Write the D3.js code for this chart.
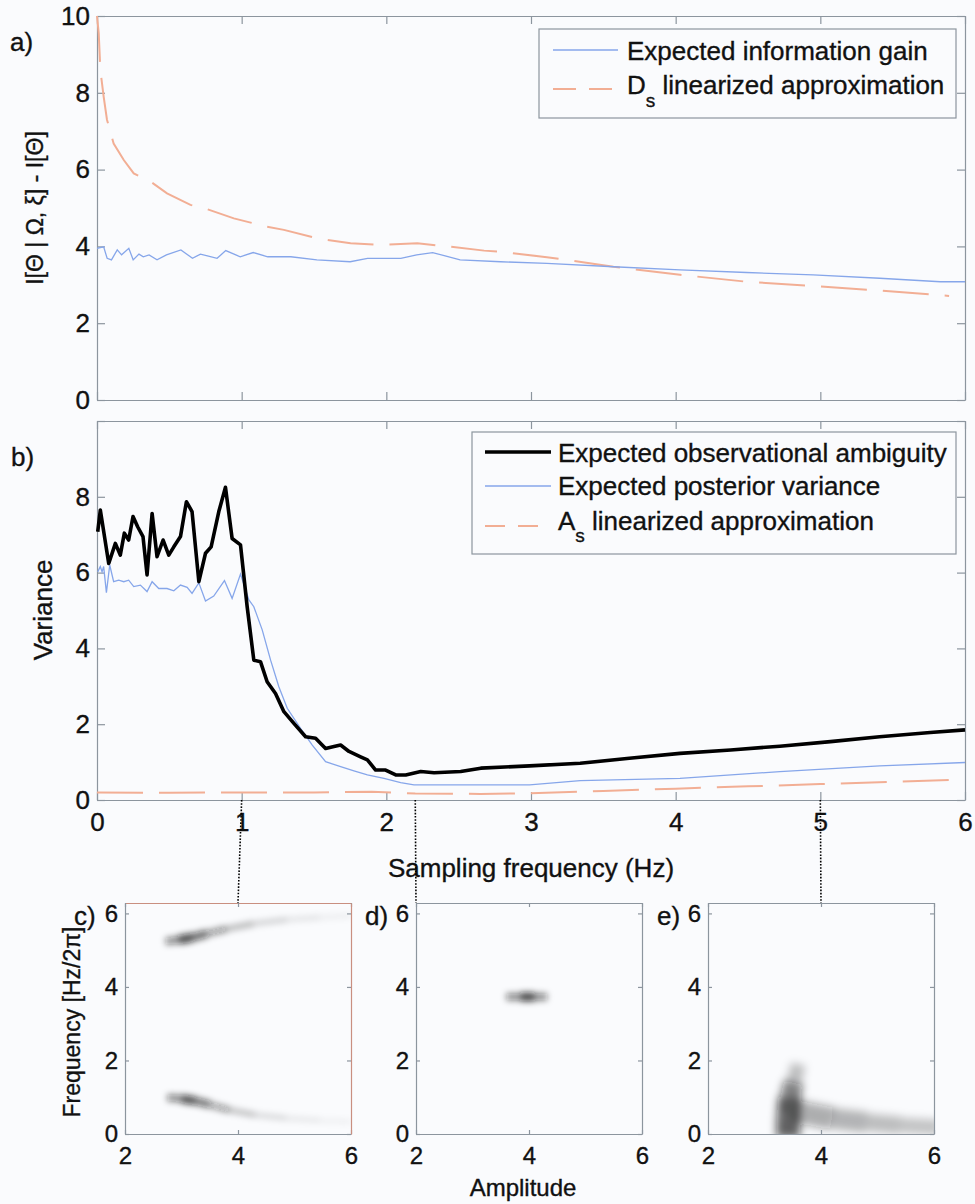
<!DOCTYPE html>
<html>
<head>
<meta charset="utf-8">
<script src="https://cdn.jsdelivr.net/npm/d3@7"></script>
<style>
body { margin: 0; background: #fafbfd; }
svg { display: block; font-family: "Liberation Sans", Arial, sans-serif; }
text { fill: #111; stroke: #111; stroke-width: 0.35px; }
.domain { stroke: #8c959e; stroke-width: 1.2; }
.tick line { stroke: #8c959e; stroke-width: 1.2; }
</style>
</head>
<body>
<svg width="975" height="1204"></svg>
<script>
// panel a: information gain
const freqGain = [0, 0.046, 0.07, 0.10, 0.14, 0.17, 0.22, 0.25, 0.29, 0.32, 0.36, 0.415, 0.48, 0.58, 0.66, 0.715, 0.83, 0.89, 0.99, 1.08, 1.18, 1.34, 1.52, 1.75, 1.87, 2.10, 2.21, 2.32, 2.51, 2.79, 3.11, 3.57, 4.03, 4.49, 4.95, 5.41, 5.83, 6.0]
const infoGain = [3.95, 3.99, 3.69, 3.65, 3.91, 3.78, 3.95, 3.65, 3.80, 3.73, 3.78, 3.65, 3.78, 3.91, 3.69, 3.80, 3.69, 3.89, 3.73, 3.84, 3.73, 3.73, 3.65, 3.60, 3.69, 3.69, 3.78, 3.84, 3.65, 3.60, 3.56, 3.47, 3.39, 3.32, 3.26, 3.17, 3.08, 3.08]
const freqDs = [0, 0.012, 0.023, 0.046, 0.069, 0.115, 0.185, 0.254, 0.369, 0.484, 0.646, 0.761, 0.946, 1.176, 1.292, 1.522, 1.753, 1.984, 2.214, 2.445, 2.676, 2.79, 3.11, 3.57, 4.03, 4.49, 4.95, 5.41, 5.89]
const dsApprox = [10, 9.55, 8.6, 7.9, 7.3, 6.68, 6.25, 5.9, 5.69, 5.38, 5.08, 4.97, 4.73, 4.51, 4.43, 4.21, 4.08, 4.04, 4.08, 3.99, 3.89, 3.86, 3.72, 3.47, 3.26, 3.08, 2.97, 2.85, 2.71]

// panel b: variances
const freqAmb = [0.005, 0.023, 0.081, 0.127, 0.161, 0.189, 0.219, 0.249, 0.281, 0.318, 0.346, 0.381, 0.415, 0.457, 0.496, 0.531, 0.577, 0.618, 0.657, 0.704, 0.750, 0.789, 0.842, 0.888, 0.934, 0.992, 1.038, 1.084, 1.130, 1.176, 1.234, 1.292, 1.361, 1.442, 1.511, 1.580, 1.638, 1.684, 1.742, 1.822, 1.869, 1.926, 1.995, 2.065, 2.134, 2.238, 2.330, 2.514, 2.653, 2.99, 3.34, 3.68, 4.03, 4.38, 4.72, 5.07, 5.41, 5.76, 6.0]
const ambiguity = [7.08, 7.65, 6.24, 6.77, 6.46, 7.04, 6.86, 7.48, 7.21, 6.95, 5.94, 7.56, 6.42, 6.86, 6.46, 6.68, 6.95, 7.87, 7.61, 5.76, 6.51, 6.68, 7.61, 8.25, 6.90, 6.73, 5.10, 3.69, 3.65, 3.12, 2.81, 2.33, 2.02, 1.67, 1.63, 1.36, 1.41, 1.45, 1.28, 1.14, 1.06, 0.79, 0.79, 0.66, 0.66, 0.75, 0.72, 0.75, 0.84, 0.90, 0.97, 1.10, 1.23, 1.32, 1.42, 1.54, 1.67, 1.78, 1.85]
const freqPost = [0.005, 0.023, 0.035, 0.046, 0.065, 0.088, 0.115, 0.150, 0.185, 0.219, 0.254, 0.300, 0.346, 0.381, 0.427, 0.484, 0.531, 0.577, 0.623, 0.657, 0.704, 0.750, 0.807, 0.881, 0.934, 0.992, 1.050, 1.084, 1.142, 1.200, 1.257, 1.315, 1.407, 1.488, 1.580, 1.684, 1.776, 1.869, 1.984, 2.099, 2.191, 2.330, 2.65, 2.99, 3.34, 4.03, 4.72, 5.41, 6.0]
const posterior = [6.02, 6.16, 6.02, 6.16, 5.47, 6.20, 5.76, 5.80, 5.76, 5.80, 5.63, 5.67, 5.50, 5.76, 5.58, 5.58, 5.52, 5.67, 5.61, 5.45, 5.73, 5.25, 5.38, 5.79, 5.32, 5.96, 5.28, 5.10, 4.49, 3.69, 2.99, 2.42, 1.89, 1.45, 1.01, 0.88, 0.77, 0.66, 0.57, 0.46, 0.40, 0.40, 0.40, 0.40, 0.51, 0.57, 0.75, 0.90, 0.99]
const freqAs = [0, 0.5, 1.0, 1.5, 1.9, 2.2, 2.65, 3.0, 3.5, 4.0, 4.5, 5.0, 5.5, 5.9]
const asApprox = [0.2, 0.19, 0.2, 0.2, 0.22, 0.17, 0.16, 0.18, 0.24, 0.3, 0.36, 0.42, 0.48, 0.53]

// panels c-e: posterior density ridges, points as [amplitude, frequency, half thickness (freq units), weight]
const ridgesC = [
  [[2.72, 5.24, 0.08, 0.25], [2.95, 5.28, 0.12, 0.9], [3.2, 5.35, 0.12, 0.85], [3.45, 5.45, 0.1, 0.6], [3.8, 5.58, 0.08, 0.4],
   [4.27, 5.72, 0.07, 0.26], [4.87, 5.83, 0.06, 0.16], [5.45, 5.89, 0.06, 0.1], [6.0, 5.94, 0.05, 0.06]],
  [[2.75, 0.99, 0.08, 0.25], [3.0, 0.96, 0.12, 0.9], [3.25, 0.9, 0.11, 0.8], [3.5, 0.8, 0.1, 0.55], [3.85, 0.65, 0.08, 0.36],
   [4.3, 0.52, 0.07, 0.22], [4.85, 0.43, 0.06, 0.13], [5.45, 0.37, 0.06, 0.08], [6.0, 0.33, 0.05, 0.05]]
]
const ridgesD = [
  [[3.6, 3.73, 0.08, 0.25], [3.85, 3.73, 0.12, 0.9], [4.1, 3.73, 0.12, 0.9], [4.32, 3.73, 0.08, 0.25]]
]
const ridgesE = [
  [[3.42, -0.1, 0.32, 0.7], [3.42, 0.5, 0.32, 0.85], [3.45, 1.0, 0.3, 0.8], [3.52, 1.4, 0.24, 0.45], [3.6, 1.9, 0.16, 0.12]],
  [[3.55, 0.62, 0.32, 0.45], [4.2, 0.42, 0.3, 0.36], [4.8, 0.32, 0.26, 0.3], [5.4, 0.24, 0.22, 0.27], [6.1, 0.18, 0.2, 0.25]]
]

// sampling frequencies shown in c, d, e
const zoomFreq = [1, 2.2, 5]

const svg = d3.select("svg")
const blue = "#86a6ea"
const peach = "#f2ae94"

svg.append("rect")
  .attr("width", 975)
  .attr("height", 1204)
  .attr("fill", "#fafbfd")

const xMain = d3.scaleLinear().domain([0, 6]).range([97, 965])
const yA = d3.scaleLinear().domain([0, 10]).range([400, 16])
const yB = d3.scaleLinear().domain([0, 10]).range([800, 421])

const frame = (x, y, o) => {
  const g = svg.append("g")
  const x0 = x.range()[0], x1 = x.range()[1]
  const y0 = y.range()[0], y1 = y.range()[1]
  g.append("g")
    .attr("transform", `translate(0,${y0})`)
    .call(d3.axisBottom(x).tickValues(o.xt).tickSizeInner(-o.tick).tickSizeOuter(0)
      .tickPadding(o.pad).tickFormat(o.xLabels ? d3.format("d") : ""))
  g.append("g")
    .attr("transform", `translate(0,${y1})`)
    .attr("class", "top")
    .call(d3.axisTop(x).tickValues(o.xt).tickSizeInner(-o.tick).tickSizeOuter(0).tickFormat(""))
  g.append("g")
    .attr("transform", `translate(${x0},0)`)
    .call(d3.axisLeft(y).tickValues(o.yt).tickSizeInner(-o.tick).tickSizeOuter(0)
      .tickPadding(o.ypad).tickFormat(o.yFmt || d3.format("d")))
  g.append("g")
    .attr("transform", `translate(${x1},0)`)
    .attr("class", "right")
    .call(d3.axisRight(y).tickValues(o.yt).tickSizeInner(-o.tick).tickSizeOuter(0).tickFormat(""))
  g.selectAll("g")
    .attr("font-size", o.fs)
    .attr("font-family", null)
  return g
}

// ---- panel a
frame(xMain, yA, {xt: [0, 1, 2, 3, 4, 5, 6], yt: [0, 2, 4, 6, 8, 10], tick: 8, pad: 13, ypad: 7, fs: 26, xLabels: false})

const lineA = (xs, ys) => d3.line()
  .x((d, i) => xMain(xs[i]))
  .y((d, i) => yA(d))(ys)
const lineB = (xs, ys) => d3.line()
  .x((d, i) => xMain(xs[i]))
  .y((d, i) => yB(d))(ys)

svg.append("path")
  .attr("d", lineA(freqDs, dsApprox))
  .attr("fill", "none")
  .attr("stroke", peach)
  .attr("stroke-width", 2)
  .attr("stroke-dasharray", "46,16")

svg.append("path")
  .attr("d", lineA(freqGain, infoGain))
  .attr("fill", "none")
  .attr("stroke", blue)
  .attr("stroke-width", 1.3)

svg.append("text")
  .attr("x", 10)
  .attr("y", 51)
  .attr("font-size", 26)
  .text("a)")

svg.append("text")
  .attr("transform", "translate(43,208) rotate(-90)")
  .attr("text-anchor", "middle")
  .attr("font-size", 23)
  .text("I[Θ | Ω, ξ] - I[Θ]")

// legend a
const legA = svg.append("g")
legA.append("rect")
  .attr("x", 539).attr("y", 29)
  .attr("width", 417).attr("height", 89)
  .attr("fill", "#fafbfd")
  .attr("stroke", "#8c959e")
  .attr("stroke-width", 1.2)
legA.append("line")
  .attr("x1", 553).attr("x2", 618).attr("y1", 50).attr("y2", 50)
  .attr("stroke", blue).attr("stroke-width", 1.3)
legA.append("line")
  .attr("x1", 553).attr("x2", 618).attr("y1", 89).attr("y2", 89)
  .attr("stroke", peach).attr("stroke-width", 2).attr("stroke-dasharray", "23,13")
legA.append("text")
  .attr("x", 627).attr("y", 60)
  .attr("font-size", 26)
  .text("Expected information gain")
const dsText = legA.append("text")
  .attr("x", 627).attr("y", 94)
  .attr("font-size", 26)
dsText.append("tspan").text("D")
dsText.append("tspan").attr("font-size", 19).attr("dy", 13).text("s")
dsText.append("tspan").attr("dy", -13).text(" linearized approximation")

// ---- panel b (top edge 10 has no label)
frame(xMain, yB, {xt: [0, 1, 2, 3, 4, 5, 6], yt: [0, 2, 4, 6, 8, 10], tick: 8, pad: 13, ypad: 7, fs: 26, xLabels: true,
  yFmt: d => d === 10 ? "" : d})

svg.append("path")
  .attr("d", lineB(freqAs, asApprox))
  .attr("fill", "none")
  .attr("stroke", peach)
  .attr("stroke-width", 2)
  .attr("stroke-dasharray", "46,16")

svg.append("path")
  .attr("d", lineB(freqPost, posterior))
  .attr("fill", "none")
  .attr("stroke", blue)
  .attr("stroke-width", 1.3)

svg.append("path")
  .attr("d", lineB(freqAmb, ambiguity))
  .attr("fill", "none")
  .attr("stroke", "#000")
  .attr("stroke-width", 3.6)
  .attr("stroke-linejoin", "round")

svg.append("text")
  .attr("x", 11)
  .attr("y", 466)
  .attr("font-size", 26)
  .text("b)")

svg.append("text")
  .attr("transform", "translate(52,610) rotate(-90)")
  .attr("text-anchor", "middle")
  .attr("font-size", 26)
  .text("Variance")

svg.append("text")
  .attr("x", 531)
  .attr("y", 877)
  .attr("text-anchor", "middle")
  .attr("font-size", 26)
  .text("Sampling frequency (Hz)")

// legend b
const legB = svg.append("g")
legB.append("rect")
  .attr("x", 472).attr("y", 432)
  .attr("width", 484).attr("height", 122)
  .attr("fill", "#fafbfd")
  .attr("stroke", "#8c959e")
  .attr("stroke-width", 1.2)
legB.append("line")
  .attr("x1", 485).attr("x2", 551).attr("y1", 452).attr("y2", 452)
  .attr("stroke", "#000").attr("stroke-width", 3.6)
legB.append("line")
  .attr("x1", 485).attr("x2", 551).attr("y1", 486).attr("y2", 486)
  .attr("stroke", blue).attr("stroke-width", 1.3)
legB.append("line")
  .attr("x1", 485).attr("x2", 551).attr("y1", 526).attr("y2", 526)
  .attr("stroke", peach).attr("stroke-width", 2).attr("stroke-dasharray", "20,13")
legB.append("text")
  .attr("x", 558).attr("y", 462)
  .attr("font-size", 26)
  .text("Expected observational ambiguity")
legB.append("text")
  .attr("x", 558).attr("y", 495)
  .attr("font-size", 26)
  .text("Expected posterior variance")
const asText = legB.append("text")
  .attr("x", 558).attr("y", 530)
  .attr("font-size", 26)
asText.append("tspan").text("A")
asText.append("tspan").attr("font-size", 19).attr("dy", 12).text("s")
asText.append("tspan").attr("dy", -12).text(" linearized approximation")

// ---- panels c, d, e
const defs = svg.append("defs")
const blur = (id, s) => defs.append("filter")
  .attr("id", id)
  .attr("filterUnits", "userSpaceOnUse")
  .attr("x", 0).attr("y", 0).attr("width", 975).attr("height", 1204)
  .append("feGaussianBlur")
  .attr("stdDeviation", s)
blur("soft", 3)
blur("softer", 4.5)

const small = [
  {name: "c)", left: 125, ridges: ridgesC, edge: "#c98f80", filter: "soft"},
  {name: "d)", left: 416, ridges: ridgesD, edge: null, filter: "soft"},
  {name: "e)", left: 708, ridges: ridgesE, edge: null, filter: "softer"}
]

svg.append("text")
  .attr("transform", "translate(80,1022) rotate(-90)")
  .attr("text-anchor", "middle")
  .attr("font-size", 23)
  .text("Frequency [Hz/2π]")

small.forEach((p, k) => {
  const x = d3.scaleLinear().domain([2, 6]).range([p.left, p.left + 226])
  const y = d3.scaleLinear().domain([0, 2 * Math.PI]).range([1134, 903])

  defs.append("clipPath")
    .attr("id", "clip" + k)
    .append("rect")
    .attr("x", p.left).attr("y", 903)
    .attr("width", 226).attr("height", 231)

  const dens = svg.append("g")
    .attr("clip-path", `url(#clip${k})`)
    .append("g")
    .attr("filter", `url(#${p.filter})`)

  // each ridge drawn as short segments whose width and darkness follow the points
  p.ridges.forEach(r => {
    dens.selectAll(null)
      .data(d3.pairs(r))
      .enter().append("path")
      .attr("d", d => d3.line().x(q => x(q[0])).y(q => y(q[1]))(d))
      .attr("fill", "none")
      .attr("stroke", "#111")
      .attr("stroke-linecap", "butt")
      .attr("stroke-width", d => (y(0) - y((d[0][2] + d[1][2]) / 2)) * 2)
      .attr("stroke-opacity", d => (d[0][3] + d[1][3]) / 2 * 0.85)
  })

  const g = frame(x, y, {xt: [2, 4, 6], yt: [0, 2, 4, 6], tick: 4, pad: 13, ypad: 7, fs: 24, xLabels: true})
  if (p.edge) {
    g.selectAll(".top .domain, .right .domain").style("stroke", p.edge)
  }

  svg.append("text")
    .attr("x", p.left - 51)
    .attr("y", 925)
    .attr("font-size", 26)
    .text(p.name)

  // dotted link from the sampling frequency in b
  svg.append("line")
    .attr("x1", xMain(zoomFreq[k]))
    .attr("y1", 800)
    .attr("x2", x(k === 1 ? 2 : 4))
    .attr("y2", 903)
    .attr("stroke", "#000")
    .attr("stroke-width", 1.6)
    .attr("stroke-dasharray", "1.6,1.6")
})

svg.append("text")
  .attr("x", 523)
  .attr("y", 1196)
  .attr("text-anchor", "middle")
  .attr("font-size", 24)
  .text("Amplitude")
</script>
</body>
</html>
